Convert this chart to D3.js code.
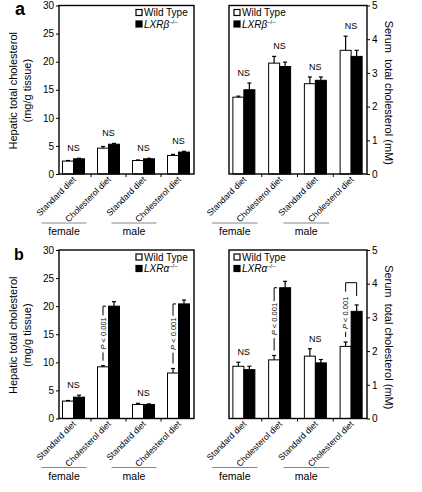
<!DOCTYPE html>
<html>
<head>
<meta charset="utf-8">
<script src="https://cdn.jsdelivr.net/npm/d3@7"></script>
<style>
  body { margin: 0; background: #fff; }
  text { font-family: "Liberation Sans", Arial, Helvetica, sans-serif; }
</style>
</head>
<body>
<div id="chart"></div>
<script>
// categories
const diets = ["Standard diet", "Cholesterol diet", "Standard diet", "Cholesterol diet"];
const sexes = ["female", "male"];
const hepaticTicks = [0, 5, 10, 15, 20, 25, 30];
const serumTicks = [0, 1, 2, 3, 4, 5];

// panel a, LXRbeta
const aHepWT = [2.3, 4.6, 2.4, 3.3];
const aHepWTErr = [0.1, 0.3, 0.1, 0.2];
const aHepKO = [2.7, 5.3, 2.7, 3.9];
const aHepKOErr = [0.1, 0.15, 0.1, 0.15];
const aHepSig = ["NS", "NS", "NS", "NS"];

const aSerWT = [2.28, 3.29, 2.68, 3.67];
const aSerWTErr = [0.03, 0.2, 0.2, 0.42];
const aSerKO = [2.5, 3.19, 2.78, 3.49];
const aSerKOErr = [0.2, 0.13, 0.1, 0.18];
const aSerSig = ["NS", "NS", "NS", "NS"];

// panel b, LXRalpha
const bHepWT = [3.1, 9.2, 2.5, 8.1];
const bHepWTErr = [0.1, 0.2, 0.2, 0.8];
const bHepKO = [3.8, 20.0, 2.5, 20.4];
const bHepKOErr = [0.35, 0.8, 0.1, 0.7];
const bHepSig = ["NS", "P < 0.001", "NS", "P < 0.001"];
const bHepBracketTop = [null, 20.0, null, 20.4];

const bSerWT = [1.55, 1.74, 1.85, 2.14];
const bSerWTErr = [0.12, 0.13, 0.22, 0.13];
const bSerKO = [1.45, 3.88, 1.65, 3.18];
const bSerKOErr = [0.1, 0.19, 0.1, 0.19];
const bSerSig = ["NS", "P < 0.001", "NS", "P < 0.001"];
const bSerBracketTop = [null, 3.88, null, 4.03];

const svg = d3.select("#chart").append("svg")
  .attr("width", 422)
  .attr("height", 492);

function drawPanel(o) {
  const g = svg.append("g");
  const y = d3.scaleLinear().domain([0, d3.max(o.ticks)]).range([o.bottom, o.top]);
  const x = d3.scaleBand().domain(d3.range(o.wt.length)).range([o.left - 3, o.right + 2]);
  const pair = 22;
  const half = pair / 2;
  const cx = i => x(i) + x.bandwidth() / 2;

  // bars
  const series = [
    {vals: o.wt, errs: o.wtErr, fill: "#fff", off: -half},
    {vals: o.ko, errs: o.koErr, fill: "#000", off: 0}
  ];
  series.forEach(s => {
    g.append("g").selectAll("rect")
      .data(s.vals)
      .join("rect")
        .attr("x", (d, i) => cx(i) + s.off)
        .attr("y", d => y(d))
        .attr("width", half)
        .attr("height", d => o.bottom - y(d))
        .attr("fill", s.fill)
        .attr("stroke", "#000")
        .attr("stroke-width", 1);

    // error bars, upper only
    const eb = g.append("g").attr("stroke", "#000").attr("stroke-width", 1.2);
    s.vals.forEach((v, i) => {
      const ex = cx(i) + s.off + half / 2;
      eb.append("line").attr("x1", ex).attr("x2", ex).attr("y1", y(v)).attr("y2", y(v + s.errs[i]));
      eb.append("line").attr("x1", ex - 2).attr("x2", ex + 2).attr("y1", y(v + s.errs[i])).attr("y2", y(v + s.errs[i]));
    });
  });

  // frame
  g.append("rect")
    .attr("x", o.left).attr("y", o.top)
    .attr("width", o.right - o.left).attr("height", o.bottom - o.top)
    .attr("fill", "none").attr("stroke", "#000").attr("stroke-width", 1.4);

  // y axis
  const axis = o.side === "left" ? d3.axisLeft(y) : d3.axisRight(y);
  const ax = g.append("g")
    .attr("transform", `translate(${o.side === "left" ? o.left : o.right},0)`)
    .call(axis.tickValues(o.ticks).tickFormat(d3.format("d")).tickSize(3).tickPadding(2));
  ax.select(".domain").remove();
  ax.selectAll("text").attr("font-size", 10).attr("font-family", "Liberation Sans, Arial, sans-serif");

  // ticks between groups
  g.append("g").selectAll("line")
    .data(d3.range(1, o.wt.length))
    .join("line")
      .attr("x1", i => x(i)).attr("x2", i => x(i))
      .attr("y1", o.bottom).attr("y2", o.bottom + 3)
      .attr("stroke", "#000");

  // x labels
  g.append("g").selectAll("text")
    .data(diets)
    .join("text")
      .attr("transform", (d, i) => `translate(${cx(i) + 3},${o.bottom + 6}) rotate(-45)`)
      .attr("text-anchor", "end")
      .attr("font-size", 8.7)
      .text(d => d);

  // female / male
  sexes.forEach((s, k) => {
    const c0 = cx(2 * k), c1 = cx(2 * k + 1);
    g.append("line")
      .attr("x1", c0 - 32).attr("x2", c1 - 22)
      .attr("y1", o.bottom + 49).attr("y2", o.bottom + 49)
      .attr("stroke", "#888").attr("stroke-width", 1);
    g.append("text")
      .attr("x", (c0 + c1) / 2 - 27).attr("y", o.bottom + 61)
      .attr("text-anchor", "middle")
      .attr("font-size", 10.5)
      .text(s);
  });

  // significance labels
  o.sig.forEach((lab, i) => {
    const top = Math.max(o.wt[i] + o.wtErr[i], o.ko[i] + o.koErr[i]);
    if (lab === "NS") {
      g.append("text")
        .attr("x", cx(i)).attr("y", y(top) - 7)
        .attr("text-anchor", "middle")
        .attr("font-size", 9)
        .text(lab);
      return;
    }
    const bx = cx(i) - half / 2;
    const kx = cx(i) + half / 2;
    const yTop = y(o.bracket[i]);
    const yBot = y(o.wt[i] + o.wtErr[i]) - 5;
    const full = o.bracket[i] > o.ko[i] + o.koErr[i];
    const bg = g.append("g").attr("stroke", "#000").attr("stroke-width", 1).attr("fill", "none");
    let yStart = yTop;
    if (full) {
      bg.append("path").attr("d", `M${bx},${yTop + 9}V${yTop}H${kx}V${y(o.ko[i] + o.koErr[i]) - 9}`);
      yStart = yTop + 9;
    } else {
      bg.append("path").attr("d", `M${bx + 3},${yTop}H${bx}V${yTop + 8}`);
      yStart = yTop + 8;
    }
    const mid = (yTop + yBot) / 2 + (full ? 3 : 0);
    const tl = 32;
    bg.append("line").attr("x1", bx).attr("x2", bx).attr("y1", mid + tl / 2 + 3).attr("y2", yBot);
    if (!full && mid - tl / 2 - 2 > yStart) {
      bg.append("line").attr("x1", bx).attr("x2", bx).attr("y1", yStart).attr("y2", mid - tl / 2 - 2);
    }
    const t = g.append("text")
      .attr("transform", `translate(${bx},${mid}) rotate(-90)`)
      .attr("text-anchor", "middle")
      .attr("dy", "0.35em")
      .attr("font-size", 7.5);
    t.append("tspan").attr("font-style", "italic").text("P");
    t.append("tspan").text(" < 0.001");
  });

  // legend
  const lx = o.side === "left" ? o.right - 58 : o.left + 5;
  const rows = [{fill: "#fff", name: "Wild Type"}, {fill: "#000", name: o.gene}];
  rows.forEach((r, k) => {
    const ly = o.top + 7 + k * 11.5;
    g.append("rect")
      .attr("x", lx).attr("y", ly - 3).attr("width", 6).attr("height", 6)
      .attr("fill", r.fill).attr("stroke", "#000").attr("stroke-width", 1.2);
    const t = g.append("text")
      .attr("x", lx + 8).attr("y", ly).attr("dy", "0.35em")
      .attr("font-size", 10);
    if (k === 0) {
      t.text(r.name);
    } else {
      t.append("tspan").attr("font-style", "italic").text(r.name);
      t.append("tspan").attr("font-size", 6).attr("dy", -4).text("\u2013/\u2013");
    }
  });

  // y label
  if (o.side === "left") {
    const cy = (o.top + o.bottom) / 2 + 1;
    ["Hepatic total cholesterol", "(mg/g tissue)"].forEach((l, k) => {
      g.append("text")
        .attr("transform", `translate(${13 + k * 14},${cy}) rotate(-90)`)
        .attr("text-anchor", "middle")
        .attr("dy", "0.35em")
        .attr("font-size", 11)
        .text(l);
    });
  } else {
    g.append("text")
      .attr("transform", `translate(389,${(o.top + o.bottom) / 2 + 3}) rotate(90)`)
      .attr("text-anchor", "middle")
      .attr("dy", "0.35em")
      .attr("font-size", 11)
      .style("white-space", "pre")
      .text("Serum  total cholesterol (mM)");
  }
}

drawPanel({left: 59, right: 194, top: 5.5, bottom: 174, side: "left", ticks: hepaticTicks,
  wt: aHepWT, wtErr: aHepWTErr, ko: aHepKO, koErr: aHepKOErr, sig: aHepSig, gene: "LXR\u03b2"});
drawPanel({left: 229, right: 367, top: 5.5, bottom: 174, side: "right", ticks: serumTicks,
  wt: aSerWT, wtErr: aSerWTErr, ko: aSerKO, koErr: aSerKOErr, sig: aSerSig, gene: "LXR\u03b2"});
drawPanel({left: 59, right: 194, top: 250, bottom: 418.5, side: "left", ticks: hepaticTicks,
  wt: bHepWT, wtErr: bHepWTErr, ko: bHepKO, koErr: bHepKOErr, sig: bHepSig, bracket: bHepBracketTop, gene: "LXR\u03b1"});
drawPanel({left: 229, right: 367, top: 250, bottom: 418.5, side: "right", ticks: serumTicks,
  wt: bSerWT, wtErr: bSerWTErr, ko: bSerKO, koErr: bSerKOErr, sig: bSerSig, bracket: bSerBracketTop, gene: "LXR\u03b1"});

// panel letters
svg.append("text").attr("x", 15).attr("y", 15)
  .attr("font-family", "Liberation Serif, Times New Roman, serif")
  .attr("font-weight", "bold").attr("font-size", 18).text("a");
svg.append("text").attr("x", 14).attr("y", 260)
  .attr("font-weight", "bold").attr("font-size", 16).text("b");
</script>
</body>
</html>
